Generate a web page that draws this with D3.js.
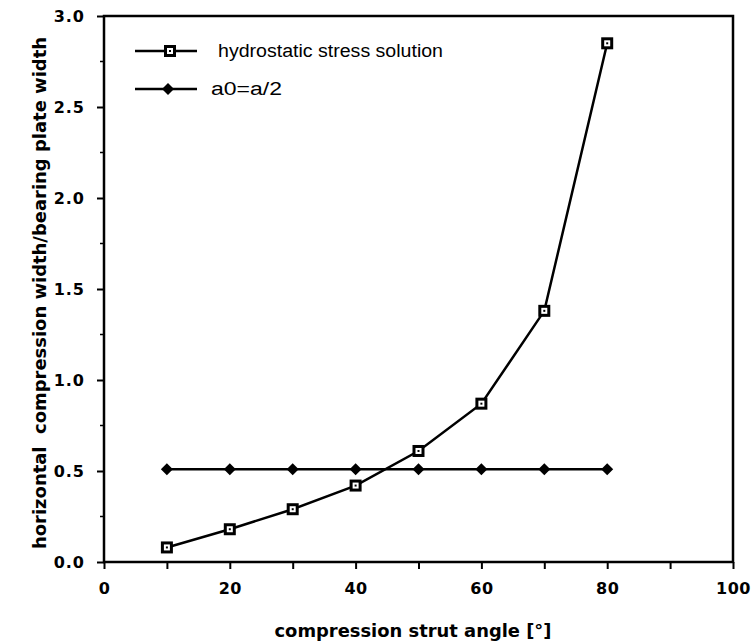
<!DOCTYPE html>
<html>
<head>
<meta charset="utf-8">
<script src="https://cdn.jsdelivr.net/npm/d3@7"></script>
<style>
  html, body { margin: 0; padding: 0; background: #fff; }
  svg { display: block; }
  text { font-family: "DejaVu Sans", "Liberation Sans", Arial, sans-serif; fill: #000; }
</style>
</head>
<body>
<script>
const angles = [10, 20, 30, 40, 50, 60, 70, 80];
const hydrostatic = [0.08, 0.18, 0.29, 0.42, 0.61, 0.87, 1.38, 2.85];
const halfWidth = [0.51, 0.51, 0.51, 0.51, 0.51, 0.51, 0.51, 0.51];
const xTicks = [0, 20, 40, 60, 80, 100];
const yTicks = [0.0, 0.5, 1.0, 1.5, 2.0, 2.5, 3.0];
const seriesNames = ["hydrostatic stress solution", "a0=a/2"];

const W = 751, H = 643;
const m = { left: 104, right: 18, top: 16, bottom: 81 };
const svg = d3.select("body").append("svg").attr("width", W).attr("height", H);

const x = d3.scaleLinear().domain([0, 100]).range([m.left, W - m.right]);
const y = d3.scaleLinear().domain([0, 3]).range([H - m.bottom, m.top]);

// frame
svg.append("rect")
  .attr("x", x(0)).attr("y", y(3))
  .attr("width", x(100) - x(0)).attr("height", y(0) - y(3))
  .attr("fill", "none").attr("stroke", "#000").attr("stroke-width", 2.5);

// x axis
const xAxis = svg.append("g").attr("transform", `translate(0,${y(0)})`)
  .call(d3.axisBottom(x).tickValues(d3.range(0, 101, 10)).tickSize(7).tickPadding(14)
    .tickFormat(d => xTicks.includes(d) ? d : ""));
xAxis.select(".domain").remove();
xAxis.selectAll(".tick line").attr("stroke", "#000").attr("stroke-width", 2);
xAxis.selectAll(".tick text")
  .style("font-family", "'DejaVu Sans', sans-serif")
  .style("font-size", "16px").style("font-weight", "bold").style("letter-spacing", "0.5px");

// y axis
const yAxis = svg.append("g").attr("transform", `translate(${x(0)},0)`)
  .call(d3.axisLeft(y).tickValues(yTicks).tickSize(7).tickPadding(12)
    .tickFormat(d3.format(".1f")));
yAxis.select(".domain").remove();
yAxis.selectAll(".tick line").attr("stroke", "#000").attr("stroke-width", 2);
yAxis.selectAll(".tick text")
  .style("font-family", "'DejaVu Sans', sans-serif")
  .style("font-size", "16px").style("font-weight", "bold").style("letter-spacing", "1px");

// minor y ticks
svg.append("g").selectAll("line")
  .data(d3.range(0.25, 3, 0.5))
  .join("line")
  .attr("x1", x(0) - 4).attr("x2", x(0))
  .attr("y1", d => y(d)).attr("y2", d => y(d))
  .attr("stroke", "#000").attr("stroke-width", 1.5);

// axis titles
svg.append("text")
  .attr("x", 413).attr("y", 637)
  .attr("text-anchor", "middle")
  .attr("textLength", 277).attr("lengthAdjust", "spacingAndGlyphs")
  .style("font-size", "17px").style("font-weight", "bold")
  .text("compression strut angle [°]");

svg.append("text")
  .attr("transform", `translate(46,293) rotate(-90)`)
  .attr("text-anchor", "middle")
  .attr("textLength", 512).attr("lengthAdjust", "spacingAndGlyphs")
  .style("white-space", "pre")
  .style("font-size", "17px").style("font-weight", "bold")
  .text("horizontal  compression width/bearing plate width");

const line = d3.line().x(d => x(d[0])).y(d => y(d[1]));

const hydroData = angles.map((a, i) => [a, hydrostatic[i]]);
const halfData = angles.map((a, i) => [a, halfWidth[i]]);

function drawSquare(g, cx, cy) {
  g.append("rect").attr("x", cx - 6).attr("y", cy - 6).attr("width", 12).attr("height", 12).attr("fill", "#000");
  g.append("rect").attr("x", cx - 3).attr("y", cy - 3).attr("width", 6).attr("height", 6).attr("fill", "#fff");
  g.append("rect").attr("x", cx - 1).attr("y", cy - 1).attr("width", 2).attr("height", 2).attr("fill", "#000");
}
function drawDiamond(g, cx, cy) {
  g.append("path").attr("d", `M${cx},${cy - 6}L${cx + 6},${cy}L${cx},${cy + 6}L${cx - 6},${cy}Z`).attr("fill", "#000");
}

svg.append("path").datum(halfData).attr("d", line)
  .attr("fill", "none").attr("stroke", "#000").attr("stroke-width", 2.5);
const gd = svg.append("g");
halfData.forEach(d => drawDiamond(gd, x(d[0]), y(d[1])));

svg.append("path").datum(hydroData).attr("d", line)
  .attr("fill", "none").attr("stroke", "#000").attr("stroke-width", 2.5);
const gs = svg.append("g");
hydroData.forEach(d => drawSquare(gs, x(d[0]), y(d[1])));

// legend
const lg = svg.append("g");
const legY = [51, 89];
const legX = [218, 211];
const legLen = [225, 71];
[0, 1].forEach(i => {
  lg.append("line").attr("x1", 135).attr("x2", 197).attr("y1", legY[i]).attr("y2", legY[i])
    .attr("stroke", "#000").attr("stroke-width", 2.5);
  if (i === 0) drawSquare(lg, 170, legY[i]); else drawDiamond(lg, 168, legY[i]);
  lg.append("text").attr("x", legX[i]).attr("y", legY[i] + 6)
    .attr("textLength", legLen[i]).attr("lengthAdjust", "spacingAndGlyphs")
    .style("font-family", "'Liberation Sans', Arial, sans-serif")
    .style("font-size", "18px")
    .text(seriesNames[i]);
});
</script>
</body>
</html>
